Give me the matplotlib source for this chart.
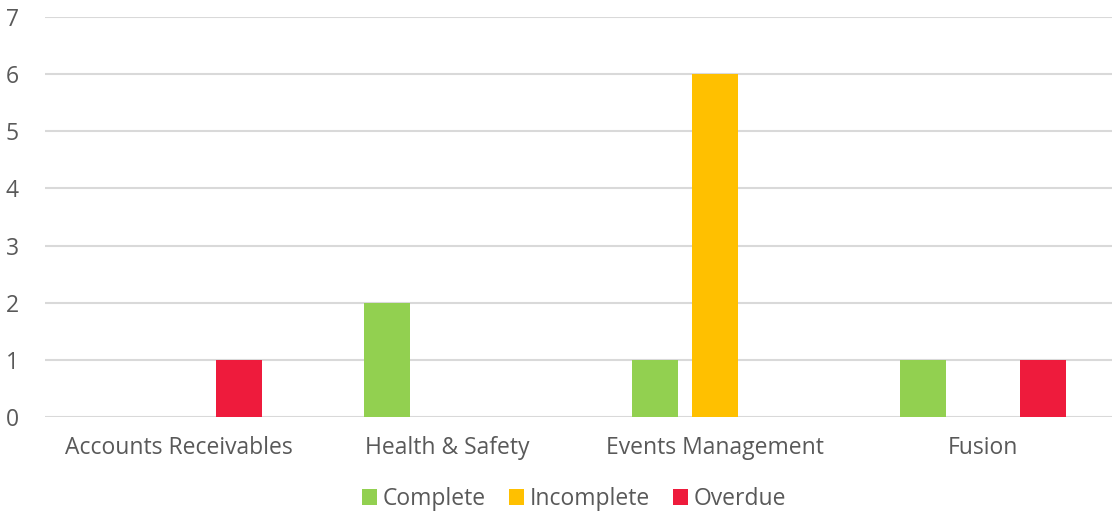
import numpy as np
import matplotlib.pyplot as plt

categories = ["Accounts Receivables", "Health & Safety", "Events Management", "Fusion"]
complete = [0, 2, 1, 1]
incomplete = [0, 0, 6, 0]
overdue = [1, 0, 0, 1]

series = [("Complete", complete, "#92d050"),
          ("Incomplete", incomplete, "#ffc000"),
          ("Overdue", overdue, "#ee1b3c")]

plt.rcParams['font.family'] = ['Open Sans', 'DejaVu Sans']
text_color = "#595959"

fig = plt.figure(figsize=(11.12, 5.17), dpi=100)
ax = fig.add_axes([45 / 1112, (517 - 417) / 517, 1072 / 1112, 400 / 517])

x = np.arange(len(categories))
width = 0.175
offset = 0.224
for i, (name, vals, color) in enumerate(series):
    ax.bar(x + (i - 1) * offset, vals, width, color=color, label=name, zorder=3)

ax.set_xlim(-0.5, len(categories) - 0.5)
ax.set_ylim(0, 7)
ax.set_yticks(range(0, 8))
ax.set_xticks(x)
ax.set_xticklabels(categories)
ax.grid(axis="y", color="#d9d9d9", linewidth=1.5, zorder=0)
ax.set_axisbelow(True)
for s in ax.spines.values():
    s.set_visible(False)
ax.tick_params(axis="both", length=0, labelsize=16.5, colors=text_color)
ax.tick_params(axis="y", pad=19)
ax.tick_params(axis="x", pad=14)

fig.legend(loc="center", bbox_to_anchor=(574 / 1112, 1 - 499 / 517), ncol=3,
           frameon=False, fontsize=16.5, handlelength=0.65, handleheight=0.65,
           handletextpad=0.25, columnspacing=1.0, labelcolor=text_color)

fig.savefig("out.png", dpi=100)
